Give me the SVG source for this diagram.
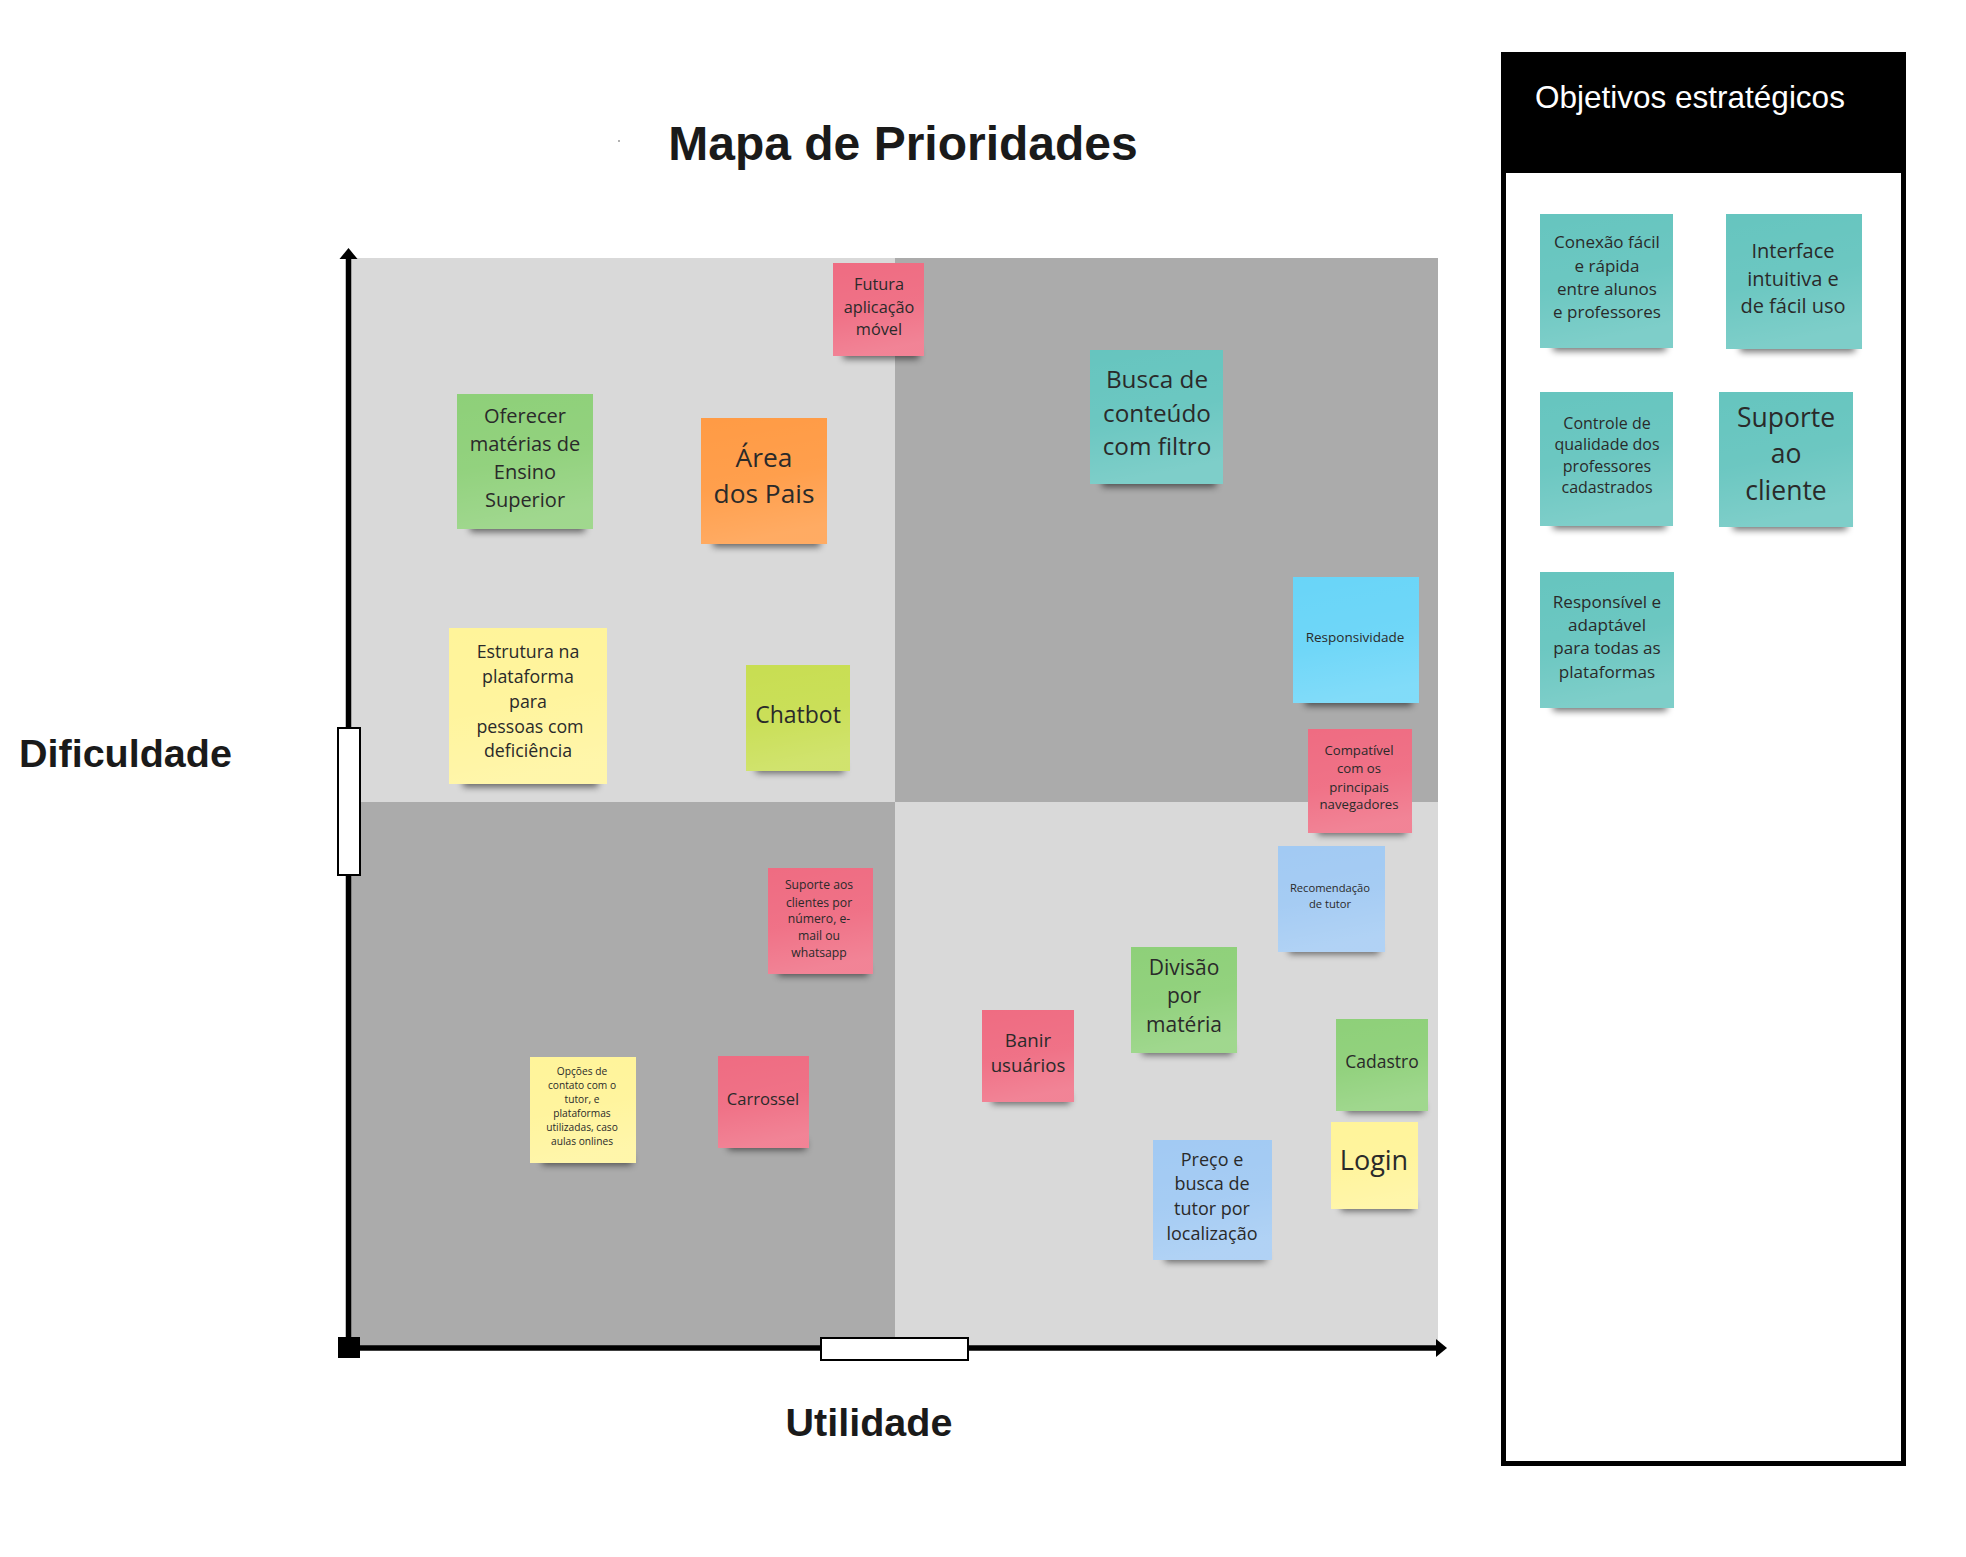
<svg xmlns="http://www.w3.org/2000/svg" width="1966" height="1557" viewBox="0 0 1966 1557">
<defs>
<style>
.note text{font-family:"Open Sans","DejaVu Sans",sans-serif;fill:#2a2a2a;text-anchor:middle}
.shadow{fill:#000;opacity:.55;filter:url(#blur)}
.sheen{fill:url(#sheen)}
.pink{fill:#EF6C82}
.green{fill:#8ED079}
.orange{fill:#FF9B45}
.yellow{fill:#FFF49A}
.lime{fill:#C8DE52}
.teal{fill:#66C5BF}
.blue{fill:#69D5F8}
.lblue{fill:#A2CAF3}
.label{font-family:"Liberation Sans",Arial,sans-serif;font-weight:bold;fill:#1a1a1a}
.axis{stroke:#000;stroke-width:5.5;fill:none}
.handle{fill:#fff;stroke:#000;stroke-width:2}
</style>
<linearGradient id="sheen" x1="0" y1="0" x2="0.2" y2="1">
<stop offset="0" stop-color="#fff" stop-opacity="0"/>
<stop offset="0.55" stop-color="#fff" stop-opacity="0.04"/>
<stop offset="1" stop-color="#fff" stop-opacity="0.16"/>
</linearGradient>
<filter id="blur" x="-30%" y="-100%" width="160%" height="300%">
<feGaussianBlur stdDeviation="3.5"/>
</filter>
</defs>

<rect width="1966" height="1557" fill="#fff"/>

<g id="title">
<text class="label" x="903" y="160" font-size="48" text-anchor="middle">Mapa de Prioridades</text>
<circle cx="619" cy="141" r="1" fill="#999"/>
</g>

<g id="quadrants">
<rect x="351" y="258" width="544" height="544" fill="#D9D9D9"/>
<rect x="895" y="258" width="543" height="544" fill="#ABABAB"/>
<rect x="351" y="802" width="544" height="545" fill="#ABABAB"/>
<rect x="895" y="802" width="543" height="545" fill="#D9D9D9"/>
</g>

<g id="connectors">
<line class="axis" x1="348.5" y1="1348" x2="348.5" y2="256"/>
<polygon points="348.5,248 339.5,259 357.5,259" fill="#000"/>
<line class="axis" x1="348.5" y1="1348" x2="1438" y2="1348"/>
<polygon points="1447,1348 1436,1339 1436,1357" fill="#000"/>
<rect x="338" y="1337" width="22" height="21" fill="#000"/>
<rect class="handle" x="338" y="728" width="22" height="147"/>
<rect class="handle" x="821" y="1338" width="147" height="22"/>
</g>

<g id="axis-labels">
<text class="label" x="19" y="767" font-size="39.5">Dificuldade</text>
<text class="label" x="869" y="1436" font-size="39.5" text-anchor="middle">Utilidade</text>
</g>

<g id="n-futura" class="note">
<rect class="shadow" x="843" y="349" width="76" height="10"/>
<rect class="pink" x="833" y="263" width="91" height="93"/>
<rect class="sheen" x="833" y="263" width="91" height="93"/>
<text font-size="16.3"><tspan x="879" y="290">Futura</tspan><tspan x="879" y="313">aplicação</tspan><tspan x="879" y="335">móvel</tspan></text>
</g>

<g id="n-oferecer" class="note">
<rect class="shadow" x="470" y="521" width="115" height="11"/>
<rect class="green" x="457" y="394" width="136" height="135"/>
<rect class="sheen" x="457" y="394" width="136" height="135"/>
<text font-size="20"><tspan x="525" y="423">Oferecer</tspan><tspan x="525" y="451">matérias de</tspan><tspan x="525" y="479">Ensino</tspan><tspan x="525" y="507">Superior</tspan></text>
</g>

<g id="n-area" class="note">
<rect class="shadow" x="713" y="536" width="107" height="11"/>
<rect class="orange" x="701" y="418" width="126" height="126"/>
<rect class="sheen" x="701" y="418" width="126" height="126"/>
<text font-size="26.3"><tspan x="764" y="467">Área</tspan><tspan x="764" y="503">dos Pais</tspan></text>
</g>

<g id="n-estrutura" class="note">
<rect class="shadow" x="463" y="776" width="135" height="11"/>
<rect class="yellow" x="449" y="628" width="158" height="156"/>
<rect class="sheen" x="449" y="628" width="158" height="156"/>
<text font-size="17.8"><tspan x="528" y="658">Estrutura na</tspan><tspan x="528" y="683">plataforma</tspan><tspan x="528" y="708">para</tspan><tspan x="530" y="733">pessoas com</tspan><tspan x="528" y="757">deficiência</tspan></text>
</g>

<g id="n-chatbot" class="note">
<rect class="shadow" x="756" y="763" width="88" height="10"/>
<rect class="lime" x="746" y="665" width="104" height="106"/>
<rect class="sheen" x="746" y="665" width="104" height="106"/>
<text font-size="23"><tspan x="798" y="723">Chatbot</tspan></text>
</g>

<g id="n-busca" class="note">
<rect class="shadow" x="1102" y="476" width="114" height="11"/>
<rect class="teal" x="1090" y="350" width="133" height="134"/>
<rect class="sheen" x="1090" y="350" width="133" height="134"/>
<text font-size="24.3"><tspan x="1157" y="388">Busca de</tspan><tspan x="1157" y="422">conteúdo</tspan><tspan x="1157" y="455">com filtro</tspan></text>
</g>

<g id="n-responsividade" class="note">
<rect class="shadow" x="1305" y="695" width="107" height="11"/>
<rect class="blue" x="1293" y="577" width="126" height="126"/>
<rect class="sheen" x="1293" y="577" width="126" height="126"/>
<text font-size="13.5"><tspan x="1355" y="642">Responsividade</tspan></text>
</g>

<g id="n-compativel" class="note">
<rect class="shadow" x="1318" y="825" width="88" height="10"/>
<rect class="pink" x="1308" y="729" width="104" height="104"/>
<rect class="sheen" x="1308" y="729" width="104" height="104"/>
<text font-size="13.2"><tspan x="1359" y="755">Compatível</tspan><tspan x="1359" y="773">com os</tspan><tspan x="1359" y="792">principais</tspan><tspan x="1359" y="809">navegadores</tspan></text>
</g>

<g id="n-recomendacao" class="note">
<rect class="shadow" x="1289" y="944" width="90" height="10"/>
<rect class="lblue" x="1278" y="846" width="107" height="106"/>
<rect class="sheen" x="1278" y="846" width="107" height="106"/>
<text font-size="11.2"><tspan x="1330" y="892">Recomendação</tspan><tspan x="1330" y="908">de tutor</tspan></text>
</g>

<g id="n-suporte-aos" class="note">
<rect class="shadow" x="778" y="966" width="90" height="10"/>
<rect class="pink" x="768" y="868" width="105" height="106"/>
<rect class="sheen" x="768" y="868" width="105" height="106"/>
<text font-size="12.2"><tspan x="819" y="889">Suporte aos</tspan><tspan x="819" y="907">clientes por</tspan><tspan x="819" y="923">número, e-</tspan><tspan x="819" y="940">mail ou</tspan><tspan x="819" y="957">whatsapp</tspan></text>
</g>

<g id="n-divisao" class="note">
<rect class="shadow" x="1142" y="1045" width="90" height="10"/>
<rect class="green" x="1131" y="947" width="106" height="106"/>
<rect class="sheen" x="1131" y="947" width="106" height="106"/>
<text font-size="21"><tspan x="1184" y="975">Divisão</tspan><tspan x="1184" y="1003">por</tspan><tspan x="1184" y="1032">matéria</tspan></text>
</g>

<g id="n-banir" class="note">
<rect class="shadow" x="992" y="1094" width="78" height="10"/>
<rect class="pink" x="982" y="1010" width="92" height="92"/>
<rect class="sheen" x="982" y="1010" width="92" height="92"/>
<text font-size="18.7"><tspan x="1028" y="1047">Banir</tspan><tspan x="1028" y="1072">usuários</tspan></text>
</g>

<g id="n-cadastro" class="note">
<rect class="shadow" x="1346" y="1103" width="78" height="10"/>
<rect class="green" x="1336" y="1019" width="92" height="92"/>
<rect class="sheen" x="1336" y="1019" width="92" height="92"/>
<text font-size="17.5"><tspan x="1382" y="1068">Cadastro</tspan></text>
</g>

<g id="n-opcoes" class="note">
<rect class="shadow" x="542" y="1155" width="90" height="10"/>
<rect class="yellow" x="530" y="1057" width="106" height="106"/>
<rect class="sheen" x="530" y="1057" width="106" height="106"/>
<text font-size="10.2"><tspan x="582" y="1075">Opções de</tspan><tspan x="582" y="1089">contato com o</tspan><tspan x="582" y="1103">tutor, e</tspan><tspan x="582" y="1117">plataformas</tspan><tspan x="582" y="1131">utilizadas, caso</tspan><tspan x="582" y="1145">aulas onlines</tspan></text>
</g>

<g id="n-carrossel" class="note">
<rect class="shadow" x="728" y="1140" width="78" height="10"/>
<rect class="pink" x="718" y="1056" width="91" height="92"/>
<rect class="sheen" x="718" y="1056" width="91" height="92"/>
<text font-size="16.6"><tspan x="763" y="1105">Carrossel</tspan></text>
</g>

<g id="n-preco" class="note">
<rect class="shadow" x="1165" y="1252" width="101" height="10"/>
<rect class="lblue" x="1153" y="1140" width="119" height="120"/>
<rect class="sheen" x="1153" y="1140" width="119" height="120"/>
<text font-size="18"><tspan x="1212" y="1166">Preço e</tspan><tspan x="1212" y="1190">busca de</tspan><tspan x="1212" y="1215">tutor por</tspan><tspan x="1212" y="1240">localização</tspan></text>
</g>

<g id="n-login" class="note">
<rect class="shadow" x="1341" y="1201" width="73" height="10"/>
<rect class="yellow" x="1331" y="1122" width="87" height="87"/>
<rect class="sheen" x="1331" y="1122" width="87" height="87"/>
<text font-size="27"><tspan x="1374" y="1170">Login</tspan></text>
</g>

<g id="panel">
<rect x="1501" y="52" width="405" height="1414" fill="#000"/>
<rect x="1506" y="173" width="395" height="1288" fill="#fff"/>
<text x="1535" y="108" font-family="Liberation Sans, Arial, sans-serif" font-size="31.5" fill="#fff">Objetivos estratégicos</text>
</g>

<g id="o-conexao" class="note">
<rect class="shadow" x="1553" y="340" width="113" height="11"/>
<rect class="teal" x="1540" y="214" width="133" height="134"/>
<rect class="sheen" x="1540" y="214" width="133" height="134"/>
<text font-size="17"><tspan x="1607" y="248">Conexão fácil</tspan><tspan x="1607" y="272">e rápida</tspan><tspan x="1607" y="295">entre alunos</tspan><tspan x="1607" y="318">e professores</tspan></text>
</g>

<g id="o-interface" class="note">
<rect class="shadow" x="1740" y="341" width="115" height="11"/>
<rect class="teal" x="1726" y="214" width="136" height="135"/>
<rect class="sheen" x="1726" y="214" width="136" height="135"/>
<text font-size="20"><tspan x="1793" y="258">Interface</tspan><tspan x="1793" y="286">intuitiva e</tspan><tspan x="1793" y="313">de fácil uso</tspan></text>
</g>

<g id="o-controle" class="note">
<rect class="shadow" x="1553" y="518" width="113" height="11"/>
<rect class="teal" x="1540" y="392" width="133" height="134"/>
<rect class="sheen" x="1540" y="392" width="133" height="134"/>
<text font-size="16"><tspan x="1607" y="429">Controle de</tspan><tspan x="1607" y="450">qualidade dos</tspan><tspan x="1607" y="472">professores</tspan><tspan x="1607" y="493">cadastrados</tspan></text>
</g>

<g id="o-suporte" class="note">
<rect class="shadow" x="1733" y="519" width="114" height="11"/>
<rect class="teal" x="1719" y="392" width="134" height="135"/>
<rect class="sheen" x="1719" y="392" width="134" height="135"/>
<text font-size="26.5"><tspan x="1786" y="427">Suporte</tspan><tspan x="1786" y="463">ao</tspan><tspan x="1786" y="500">cliente</tspan></text>
</g>

<g id="o-responsivel" class="note">
<rect class="shadow" x="1553" y="700" width="114" height="11"/>
<rect class="teal" x="1540" y="572" width="134" height="136"/>
<rect class="sheen" x="1540" y="572" width="134" height="136"/>
<text font-size="17.1"><tspan x="1607" y="608">Responsível e</tspan><tspan x="1607" y="631">adaptável</tspan><tspan x="1607" y="654">para todas as</tspan><tspan x="1607" y="678">plataformas</tspan></text>
</g>
</svg>
